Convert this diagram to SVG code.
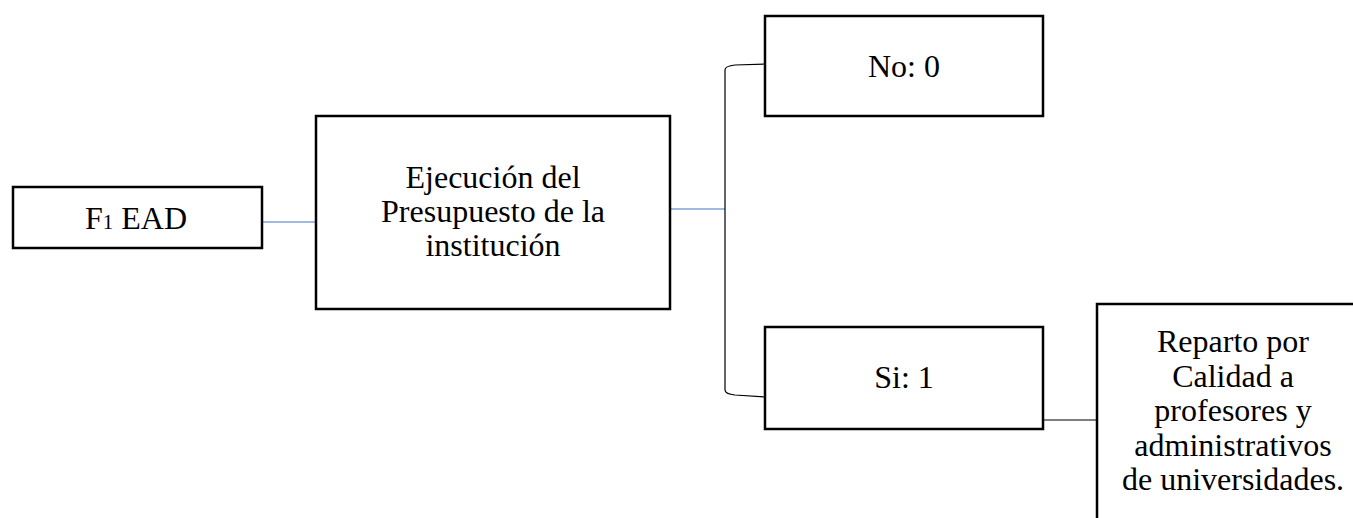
<svg xmlns="http://www.w3.org/2000/svg" width="1353" height="518" viewBox="0 0 1353 518">
<style>
.box{fill:#fff;stroke:#000;stroke-width:2.5}
.t{font-family:"Liberation Serif","Times New Roman",serif;font-size:32px;fill:#000;text-anchor:middle}
.blue{stroke:#4472C4;stroke-width:1.2;fill:none}
.blk{stroke:#000;stroke-width:1.2;fill:none}
</style>
<rect width="1353" height="518" fill="#fff"/>
<g id="connectors">
<line class="blue" x1="262" y1="222" x2="316" y2="222"/>
<line class="blue" x1="670" y1="209" x2="725" y2="209"/>
<path class="blk" d="M765,64 L735,65 Q725,66 725,70 L725,390 Q725,394 735,395 L765,397"/>
<line class="blk" x1="1043" y1="420" x2="1097" y2="420"/>
</g>
<g id="n1">
<rect class="box" x="13" y="187" width="249" height="61"/>
<text class="t" x="136" y="229">F<tspan font-size="21px">1</tspan> EAD</text>
</g>
<g id="n2">
<rect class="box" x="316" y="116" width="354" height="193"/>
<text class="t" x="493" y="188">Ejecución del</text>
<text class="t" x="493" y="222">Presupuesto de la</text>
<text class="t" x="493" y="256">institución</text>
</g>
<g id="n3">
<rect class="box" x="765" y="16" width="278" height="100"/>
<text class="t" x="904" y="77">No: 0</text>
</g>
<g id="n4">
<rect class="box" x="765" y="327" width="278" height="102"/>
<text class="t" x="904" y="388">Si: 1</text>
</g>
<g id="n5">
<rect class="box" x="1097" y="304" width="273" height="230"/>
<text class="t" x="1233" y="352">Reparto por</text>
<text class="t" x="1233" y="386.5">Calidad a</text>
<text class="t" x="1233" y="421">profesores y</text>
<text class="t" x="1233" y="455.5">administrativos</text>
<text class="t" x="1233" y="490">de universidades.</text>
</g>
</svg>
